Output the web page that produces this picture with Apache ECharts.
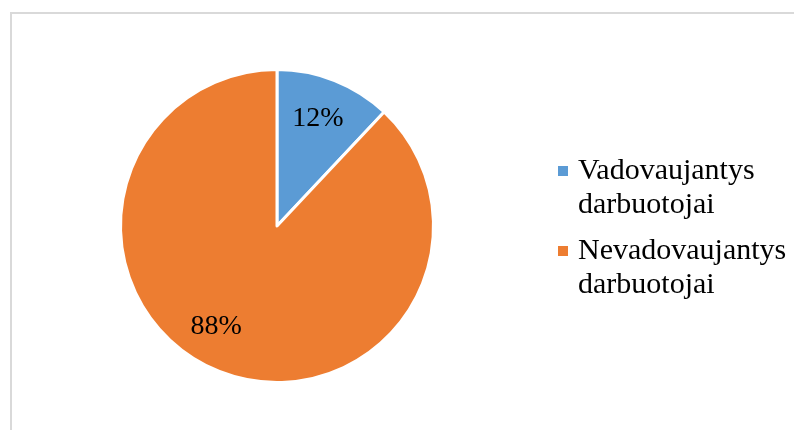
<!DOCTYPE html>
<html>
<head>
<meta charset="utf-8">
<script src="https://cdn.jsdelivr.net/npm/echarts@6/dist/echarts.min.js"></script>
<style>
  html, body { margin: 0; padding: 0; background: #fff; }
  #chart { width: 794px; height: 430px; }
</style>
</head>
<body>
<div id="chart"></div>
<script>
// Staff split: managers vs. non-managers (percent)
const categories = ['Vadovaujantys darbuotojai', 'Nevadovaujantys darbuotojai'];
const legendLines = [['Vadovaujantys', 'darbuotojai'], ['Nevadovaujantys', 'darbuotojai']];
const shares = [12, 88];
const colors = ['#5B9BD5', '#ED7D31'];

const serif = '"Liberation Serif", "Times New Roman", serif';
const center = [277, 226];
const outerR = 156.5;
const lineH = 34;

// small nudges for the percentage labels, per slice
const labelNudge = [[-3, 4], [-17, -10]];

const pieData = categories.map((name, i) => ({ name, value: shares[i] }));

function legendFor(i, markerY) {
  return {
    data: [categories[i]],
    left: 558,
    top: markerY - 1.5 * lineH,
    padding: 0,
    icon: 'rect',
    itemWidth: 10,
    itemHeight: 10,
    itemStyle: { borderWidth: 0 },
    selectedMode: false,
    // leading blank line keeps the marker level with the first text line
    formatter: () => '\n' + legendLines[i].join('\n'),
    textStyle: {
      fontFamily: serif, fontSize: 30, lineHeight: lineH, color: '#000',
      padding: [0, 0, 0, 5]
    }
  };
}

const chart = echarts.init(document.getElementById('chart'), null, { renderer: 'canvas' });
chart.setOption({
  animation: false,
  color: colors,
  graphic: [{
    type: 'rect',
    shape: { x: 11, y: 13, width: 900, height: 600 },
    style: { fill: 'none', stroke: '#d9d9d9', lineWidth: 2 },
    silent: true
  }],
  legend: [legendFor(0, 171), legendFor(1, 251)],
  series: [
    {
      type: 'pie',
      center: center,
      radius: [0, outerR],
      startAngle: 90,
      clockwise: true,
      silent: true,
      data: pieData,
      itemStyle: { borderColor: '#fff', borderWidth: 3 },
      label: { show: false },
      labelLine: { show: false }
    },
    {
      // transparent ring that carries the percentage labels at ~3/4 radius
      type: 'pie',
      center: center,
      radius: [76, outerR],
      startAngle: 90,
      clockwise: true,
      silent: true,
      data: pieData,
      itemStyle: { color: 'rgba(0,0,0,0)', borderWidth: 0 },
      label: {
        show: true,
        position: 'inside',
        formatter: '{c}%',
        fontFamily: serif,
        fontSize: 28,
        color: '#000'
      },
      labelLine: { show: false },
      labelLayout: (p) => ({ dx: labelNudge[p.dataIndex][0], dy: labelNudge[p.dataIndex][1] })
    }
  ]
});
</script>
</body>
</html>
